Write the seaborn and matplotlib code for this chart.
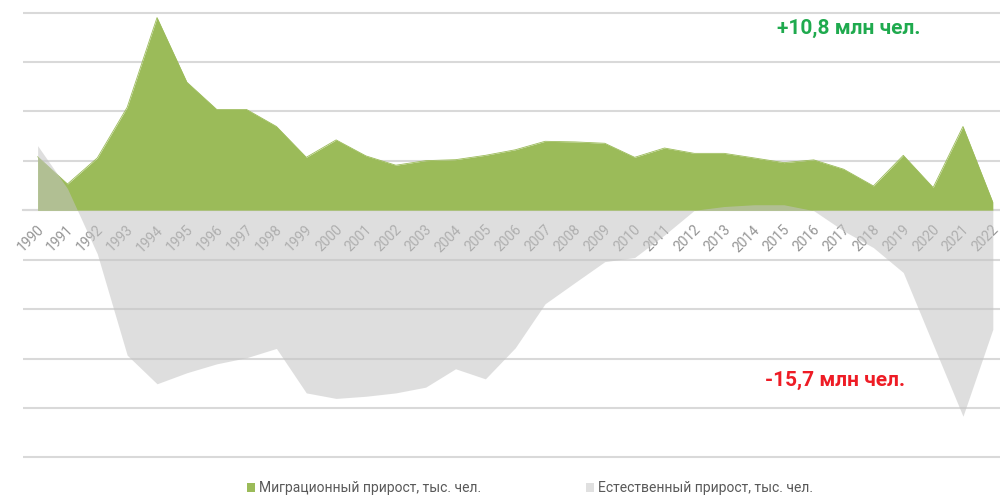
import matplotlib
matplotlib.use("Agg")
import matplotlib.pyplot as plt
import seaborn as sns
import pandas as pd
import numpy as np
from matplotlib.patches import Patch
from matplotlib.ticker import FixedLocator, NullFormatter
from matplotlib.transforms import ScaledTranslation

years = list(range(1990, 2023))
migration = [271, 133, 265, 521, 975, 648, 510, 510, 424, 268, 356, 275, 228, 251, 256,
             278, 306, 349, 346, 339, 268, 315, 288, 288, 265, 241, 255, 208, 123, 278,
             115, 424, 40]
natural = [327, 110, -221, -733, -878, -822, -777, -746, -699, -924, -952, -941, -924,
           -895, -802, -853, -696, -473, -366, -260, -239, -125, 0, 19, 28, 28, -2,
           -104, -189, -315, -679, -1042, -602]
label_migration = "Миграционный прирост, тыс. чел."
label_natural = "Естественный прирост, тыс. чел."
total_migration = "+10,8 млн чел."
total_natural = "-15,7 млн чел."

GREEN = "#9bbb59"
GREY = "#c4c4c4"
GRID = "#d9d9d9"

sns.set_theme(style="white")
fams = ["Roboto", "DejaVu Sans"]
plt.rcParams["font.family"] = fams

df = pd.DataFrame({"x": np.arange(len(years)), "year": years,
                   "migration": migration, "natural": natural})

fig = plt.figure(figsize=(10, 4.96), dpi=100)
ax = fig.add_axes([0.0227, 0.072, 0.9773, 0.9085])

ax.fill_between(df["x"], 0, df["migration"], color=GREEN, lw=0, zorder=2)
sns.lineplot(data=df, x="x", y="migration", color=GREEN, lw=0.6, ax=ax, zorder=2)
ax.fill_between(df["x"], 0, df["natural"], color=GREY, alpha=0.55, lw=0, zorder=3)

ax.set_xlim(-0.5, 32.24)
ax.set_ylim(-1265, 1015)
ax.set_yticks(np.arange(-1250, 1001, 250))
ax.yaxis.grid(True, color=GRID, lw=1.5, zorder=0)
ax.set_axisbelow(True)
ax.tick_params(axis="y", left=False, labelleft=False)

for s in ["top", "right", "left"]:
    ax.spines[s].set_visible(False)
ax.spines["bottom"].set_position(("data", 0))
ax.spines["bottom"].set_color(GRID)
ax.spines["bottom"].set_linewidth(1.5)
ax.spines["bottom"].set_zorder(1)

ax.set_xticks(df["x"])
ax.set_xticklabels([str(y) for y in years], rotation=45, ha="right",
                   va="top", rotation_mode="anchor", fontsize=10, color="#959595")
ax.tick_params(axis="x", which="major", length=0, pad=9)
offset = ScaledTranslation(-1 / 100, 0, fig.dpi_scale_trans)
for lbl in ax.get_xticklabels():
    lbl.set_transform(lbl.get_transform() + offset)
ax.xaxis.set_minor_locator(FixedLocator(np.arange(-0.5, 32.6, 1.0)))
ax.xaxis.set_minor_formatter(NullFormatter())
ax.tick_params(axis="x", which="minor", length=5, width=1.2, color=GRID, direction="out")
ax.set_xlabel("")
ax.set_ylabel("")

ax.text(27.16, 920, total_migration, ha="center", va="center", fontsize=15,
        fontweight="bold", color="#1faa4e")
ax.text(26.7, -860, total_natural, ha="center", va="center", fontsize=15,
        fontweight="bold", color="#ee1c25")

handles = [Patch(facecolor=GREEN, edgecolor="none", label=label_migration),
           Patch(facecolor="#e0e0e0", edgecolor="none", label=label_natural)]
fig.legend(handles=handles, loc="center", bbox_to_anchor=(0.53, 0.016), ncol=2,
           frameon=False, fontsize=10, handlelength=0.6, handleheight=0.6,
           handletextpad=0.3, columnspacing=7.5, labelcolor="#595959")

fig.savefig("out.png", dpi=100)
